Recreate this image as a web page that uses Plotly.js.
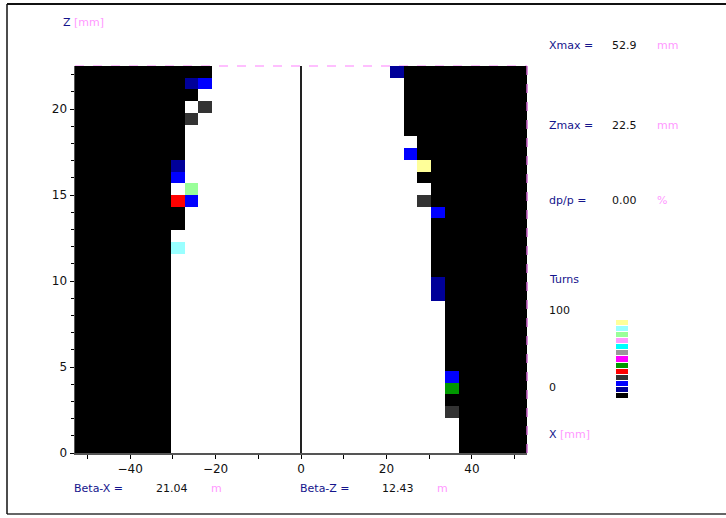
<!DOCTYPE html>
<html>
<head>
<meta charset="utf-8">
<script src="https://cdn.plot.ly/plotly-3.0.1.min.js"></script>
<style>html,body{margin:0;padding:0;background:#fff;}#chart{width:726px;height:518px;}</style>
</head>
<body>
<div id="chart"></div>
<script>
// ---- Data ----
const xmax = 52.9;          // mm
const zmax = 22.5;          // mm
const nHalfCols = 16;       // columns on each side of x = 0
const nRows = 33;           // rows from z = 0 to zmax
// Turn-level colours, index 0 (lost at turn 0) ... 12 (close to 100 turns)
const levelColors = ['#000000','#000099','#0000ff','#333333','#ff0000','#009900',
                     '#ff00ff','#999999','#00ffff','#ff99ff','#99ff99','#99ffff','#ffff99'];
// Per row (bottom to top): last lost column on the left side (column index, negative)
const leftLastLost = [-10,-10,-10,-10,-10,-10,-10,-10,-10,-10,-10,-10,-10,-10,-10,-10,-10,
                      -10,-10,-9,-9,-10,-10,-10,-10,-9,-9,-9,-9,-9,-8,-9,-7];
// Per row (bottom to top): first lost column on the right side
const rightFirstLost = [12,12,12,12,11,12,12,11,11,11,11,11,11,11,11,10,10,
                        10,10,10,11,10,10,9,10,9,9,8,8,8,8,8,8];
// Isolated cells lost after some turns: column, row, turn level
const specCol = [-9,-9,-8,-8,-9,-9,-8,-7,-8,-7, 11,11,11,10,10,10,9,9,8,7];
const specRow = [17,21,21,22,23,24,28,29,31,31, 3,5,6,13,14,20,21,24,25,32];
const specLvl = [11,4,2,10,2,1,3,3,1,2, 3,5,2,1,1,2,3,12,2,1];

// ---- Build grid ----
const dx = xmax / (nHalfCols + 0.5);
const dz = zmax / nRows;
const cols = [];
for (let k = -nHalfCols; k <= nHalfCols; k++) cols.push(k);
const xs = cols.map(k => k * dx);
const zs = [];
for (let m = 0; m < nRows; m++) zs.push((m + 0.5) * dz);
const grid = [];
for (let m = 0; m < nRows; m++) {
  grid.push(cols.map(k => (k <= leftLastLost[m] || k >= rightFirstLost[m]) ? 0 : null));
}
for (let i = 0; i < specCol.length; i++) {
  grid[specRow[i]][specCol[i] + nHalfCols] = specLvl[i];
}
const nL = levelColors.length;
const cscale = [];
levelColors.forEach((c, i) => { cscale.push([i / nL, c]); cscale.push([(i + 1) / nL, c]); });

// ---- Layout helpers (pixel to paper) ----
const W = 726, H = 518, L = 75, T = 66, B = 65;
const pw = W - L, ph = H - T - B;
const px = p => (p - L) / pw;
const py = p => (H - B - p) / ph;
const navy = '#14148c', pink = '#ff99ff', dark = '#111111';
const FONT = 'DejaVu Sans';
function ann(text, x, y, color, size) {
  return {text: text, x: px(x), y: py(y), xref: 'paper', yref: 'paper',
          xanchor: 'left', yanchor: 'middle', showarrow: false,
          font: {family: FONT, size: size || 11, color: color}};
}

const traces = [
  {type: 'heatmap', x: xs, y: zs, z: grid, colorscale: cscale,
   zmin: -0.5, zmax: nL - 0.5, showscale: false, hoverongaps: false,
   xaxis: 'x', yaxis: 'y'},
  {type: 'heatmap', x: [0], y: levelColors.map((c, i) => i),
   z: levelColors.map((c, i) => [i]), colorscale: cscale,
   zmin: -0.5, zmax: nL - 0.5, showscale: false, ygap: 1,
   xaxis: 'x2', yaxis: 'y2'}
];

const layout = {
  width: W, height: H,
  margin: {l: L, r: 0, t: T, b: B, pad: 0},
  paper_bgcolor: '#ffffff', plot_bgcolor: '#ffffff',
  showlegend: false,
  font: {family: FONT, size: 11, color: dark},
  xaxis: {domain: [0, (527 - L) / pw], range: [-xmax, xmax], tickmode: 'linear',
          tick0: 0, dtick: 20, ticks: 'outside', ticklen: 4, tickcolor: '#000',
          minor: {dtick: 10, ticks: 'outside', ticklen: 4, tickcolor: '#000'},
          showgrid: false, zeroline: true, zerolinecolor: '#222', zerolinewidth: 1.5,
          showline: true, linecolor: '#555', linewidth: 1.5,
          tickfont: {family: FONT, size: 12, color: dark}, anchor: 'y'},
  yaxis: {domain: [0, 1], range: [0, zmax], tickmode: 'linear', tick0: 0, dtick: 5,
          ticks: 'outside', ticklen: 4, tickcolor: '#000',
          minor: {dtick: 1, ticks: 'outside', ticklen: 3, tickcolor: '#000'},
          showgrid: false, zeroline: false, showline: true, linecolor: '#555', linewidth: 1.5,
          tickfont: {family: FONT, size: 12, color: dark}, anchor: 'x'},
  xaxis2: {domain: [px(616), px(628)], range: [-0.5, 0.5], visible: false, anchor: 'y2', fixedrange: true},
  yaxis2: {domain: [py(399), py(320)], range: [-0.5, nL - 0.5], visible: false, anchor: 'x2', fixedrange: true},
  shapes: [
    {type: 'line', xref: 'x domain', yref: 'y domain', x0: 0, x1: 1, y0: 1, y1: 1,
     line: {color: '#ffaaff', width: 1.5, dash: 'dash'}, layer: 'below'},
    {type: 'line', xref: 'x domain', yref: 'y domain', x0: 1, x1: 1, y0: 0, y1: 1,
     line: {color: '#cc66cc', width: 1.5, dash: 'dash'}, layer: 'above'},
    {type: 'line', xref: 'paper', yref: 'paper', x0: px(7), x1: px(730), y0: py(4), y1: py(4),
     line: {color: '#111', width: 2}},
    {type: 'line', xref: 'paper', yref: 'paper', x0: px(7), x1: px(730), y0: py(514), y1: py(514),
     line: {color: '#666', width: 2}},
    {type: 'line', xref: 'paper', yref: 'paper', x0: px(7), x1: px(7), y0: py(4), y1: py(514),
     line: {color: '#111', width: 1.5}}
  ],
  annotations: [
    ann('Z <span style="color:' + pink + '">[mm]</span>', 61, 22, navy),
    ann('Xmax =', 547, 46, navy), ann('52.9', 610, 46, dark), ann('mm', 655, 46, pink),
    ann('Zmax =', 547, 125, navy), ann('22.5', 610, 125, dark), ann('mm', 655, 125, pink),
    ann('dp/p =', 547, 201, navy), ann('0.00', 610, 201, dark), ann('%', 655, 201, pink),
    ann('Turns', 547, 279, navy), ann('100', 547, 310, dark), ann('0', 547, 387, dark),
    ann('X <span style="color:' + pink + '">[mm]</span>', 547, 434, navy),
    ann('Beta-X =', 72, 488, navy), ann('21.04', 154, 488, dark), ann('m', 209, 488, pink),
    ann('Beta-Z =', 298, 488, navy), ann('12.43', 380, 488, dark), ann('m', 435, 488, pink)
  ]
};

Plotly.newPlot('chart', traces, layout, {displayModeBar: false, staticPlot: true});
</script>
</body>
</html>
